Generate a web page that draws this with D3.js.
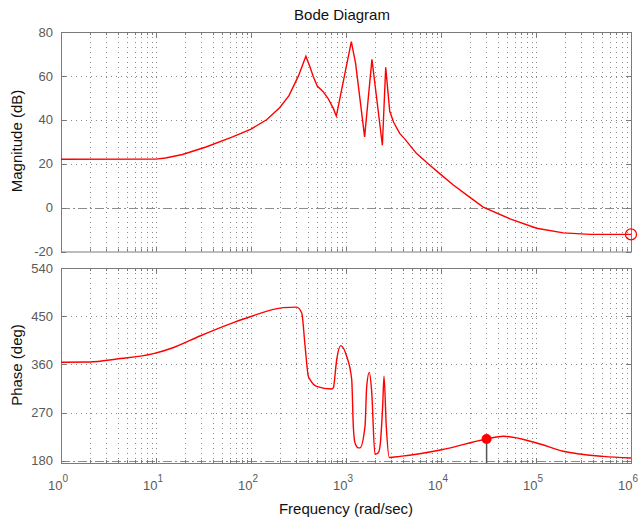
<!DOCTYPE html>
<html><head><meta charset="utf-8">
<script src="https://cdn.jsdelivr.net/npm/d3@7"></script>
<style>body{margin:0;background:#fff}svg{display:block}</style>
</head><body>
<svg id="c" width="641" height="523"></svg>
<script>
// ---- data ----
const magFreq = [1, 10, 12.6, 19, 33.6, 64, 100, 146, 200, 251, 316, 378, 417, 453, 498, 575, 646, 735, 791, 1138, 1262, 1570, 1875, 2415, 2618, 2884, 3162, 3673, 4169, 5508, 7586, 10116, 13490, 18578, 27797, 53211, 101625, 194089, 371535, 1000000];
const magDb   = [22, 22.1, 22.6, 24.2, 27.6, 32.2, 35.8, 40, 45.5, 51, 60, 69, 64.2, 59.6, 55.4, 52.8, 49.8, 45.2, 41.7, 75.6, 65.7, 32.2, 67.5, 28.4, 63.9, 44, 39, 33.8, 31.2, 24.7, 19.4, 14.8, 10.3, 5.8, 0.2, -5.1, -9.4, -11.5, -12.2, -12.2];
const phaseFreq = [1, 2.02, 3.85, 9.4, 15.1, 29, 65.2, 97.7, 219, 302, 342, 370, 401, 417, 490, 708, 735, 798, 879, 1016, 1148, 1194, 1245, 1349, 1403, 1585, 1652, 1758, 1862, 2018, 2188, 2280, 2432, 2512, 2655, 2858, 3698, 10162, 30200, 45290, 101625, 193642, 510505, 1000000];
const phaseDeg  = [364, 364.5, 370, 380, 391, 413, 438, 449, 466, 467, 456, 396, 338, 332, 319, 314, 316, 369, 395, 375, 332, 244, 213, 204, 204, 244, 319, 345, 310, 192, 195, 207, 282, 338, 244, 186, 188, 200.5, 220.6, 225.6, 213, 197.6, 188, 185];
const magMarker = [1000000, -12.2];
const phaseMarker = [30200, 220.6];
const xTickValues = [1, 10, 100, 1000, 10000, 100000, 1000000];
const xTickExp = ["0", "1", "2", "3", "4", "5", "6"];
const magTicks = [-20, 0, 20, 40, 60, 80];
const phaseTicks = [180, 270, 360, 450, 540];
const magRef = 0, phaseRef = 180;

// ---- layout ----
const L = 61, R = 631;
const svg = d3.select("#c");
const x = d3.scaleLog().domain([1, 1e6]).range([L, R]);
const yMag = d3.scaleLinear().domain([-20, 80]).range([251.5, 32]);
const yPh = d3.scaleLinear().domain([175.7, 540]).range([463, 268]);
const axisCol = "#7a7a7a", gridCol = "#8a8a8a", textCol = "#5a5a5a";
const font = "'Liberation Sans', Arial, sans-serif";

const minor = [];
for (let e = 0; e < 6; e++) for (let k = 2; k <= 9; k++) minor.push(k * Math.pow(10, e));

function panel(y, ticks, refVal, withLabels) {
  const [y0, y1] = y.range();
  const g = svg.append("g");
  g.selectAll(null).data(minor.concat(xTickValues.slice(1, -1))).join("line")
    .attr("x1", d => Math.round(x(d)) + 0.5).attr("x2", d => Math.round(x(d)) + 0.5)
    .attr("y1", y1).attr("y2", y0)
    .attr("stroke", gridCol).attr("stroke-width", 1).attr("stroke-dasharray", "1,4");
  g.selectAll(null).data(ticks.filter(t => t !== refVal && y(t) > y1 + 1 && y(t) < y0 - 1)).join("line")
    .attr("x1", L).attr("x2", R)
    .attr("y1", d => Math.round(y(d)) + 0.5).attr("y2", d => Math.round(y(d)) + 0.5)
    .attr("stroke", gridCol).attr("stroke-dasharray", "1,4");
  g.append("line").attr("x1", L).attr("x2", R)
    .attr("y1", Math.round(y(refVal)) + 0.5).attr("y2", Math.round(y(refVal)) + 0.5)
    .attr("stroke", "#8c8c8c").attr("stroke-width", 1).attr("stroke-dasharray", "9,3,2,3");
  g.append("rect").attr("x", L + 0.5).attr("y", y1 + 0.5).attr("width", R - L).attr("height", y0 - y1)
    .attr("fill", "none").attr("stroke", axisCol).attr("stroke-width", 1);
  const xt = [...xTickValues.map(v => [v, 5]), ...minor.map(v => [v, 3])];
  xt.forEach(([v, len]) => {
    const xx = Math.round(x(v)) + 0.5;
    g.append("line").attr("x1", xx).attr("x2", xx).attr("y1", y0).attr("y2", y0 - len).attr("stroke", axisCol);
    g.append("line").attr("x1", xx).attr("x2", xx).attr("y1", y1).attr("y2", y1 + len).attr("stroke", axisCol);
  });
  ticks.forEach(t => {
    const yy = Math.round(y(t)) + 0.5;
    g.append("line").attr("x1", L).attr("x2", L + 5).attr("y1", yy).attr("y2", yy).attr("stroke", axisCol);
    g.append("line").attr("x1", R - 5).attr("x2", R).attr("y1", yy).attr("y2", yy).attr("stroke", axisCol);
    g.append("text").attr("x", L - 8).attr("y", y(t)).attr("dy", "0.36em")
      .attr("text-anchor", "end").attr("font-family", font).attr("font-size", 13)
      .attr("fill", textCol).text(t);
  });
  if (withLabels) {
    xTickValues.forEach((v, i) => {
      const t = g.append("text").attr("x", x(v) - 3).attr("y", 490)
        .attr("text-anchor", "middle").attr("font-family", font).attr("font-size", 13).attr("fill", textCol);
      t.append("tspan").text("10");
      t.append("tspan").attr("dy", -8).attr("font-size", 10).text(xTickExp[i]);
    });
  }
  return g;
}

panel(yMag, magTicks, magRef, false);
panel(yPh, phaseTicks, phaseRef, true);

const defs = svg.append("defs");
defs.append("clipPath").attr("id", "cm").append("rect").attr("x", L).attr("y", 32).attr("width", R - L).attr("height", 219.5);
defs.append("clipPath").attr("id", "cp").append("rect").attr("x", L).attr("y", 268).attr("width", R - L).attr("height", 195);

const magData = magFreq.map((f, i) => [f, magDb[i]]);
const phData = phaseFreq.map((f, i) => [f, phaseDeg[i]]);

svg.append("path").datum(magData).attr("clip-path", "url(#cm)")
  .attr("d", d3.line().x(d => x(d[0])).y(d => yMag(d[1])))
  .attr("fill", "none").attr("stroke", "#ff0000").attr("stroke-width", 1.4);
svg.append("path").datum(phData).attr("clip-path", "url(#cp)")
  .attr("d", d3.line().x(d => x(d[0])).y(d => yPh(d[1])).curve(d3.curveMonotoneX))
  .attr("fill", "none").attr("stroke", "#ff0000").attr("stroke-width", 1.4);

svg.append("circle").attr("cx", x(magMarker[0])).attr("cy", yMag(magMarker[1])).attr("r", 5.5)
  .attr("fill", "none").attr("stroke", "#ff0000").attr("stroke-width", 1.2);
svg.append("line").attr("x1", x(phaseMarker[0])).attr("x2", x(phaseMarker[0]))
  .attr("y1", yPh(phaseMarker[1])).attr("y2", 463).attr("stroke", "#555").attr("stroke-width", 1.5);
svg.append("circle").attr("cx", x(phaseMarker[0])).attr("cy", yPh(phaseMarker[1])).attr("r", 5)
  .attr("fill", "#ff0000");

svg.append("text").attr("x", 342).attr("y", 20).attr("text-anchor", "middle")
  .attr("font-family", font).attr("font-size", 15).attr("fill", "#111").text("Bode Diagram");
svg.append("text").attr("transform", "translate(22,141) rotate(-90)").attr("text-anchor", "middle")
  .attr("font-family", font).attr("font-size", 15).attr("fill", "#111").text("Magnitude (dB)");
svg.append("text").attr("transform", "translate(22,365) rotate(-90)").attr("text-anchor", "middle")
  .attr("font-family", font).attr("font-size", 15).attr("fill", "#111").text("Phase (deg)");
svg.append("text").attr("x", 346).attr("y", 514).attr("text-anchor", "middle")
  .attr("font-family", font).attr("font-size", 15).attr("fill", "#111").text("Frequency (rad/sec)");
</script>
</body></html>
